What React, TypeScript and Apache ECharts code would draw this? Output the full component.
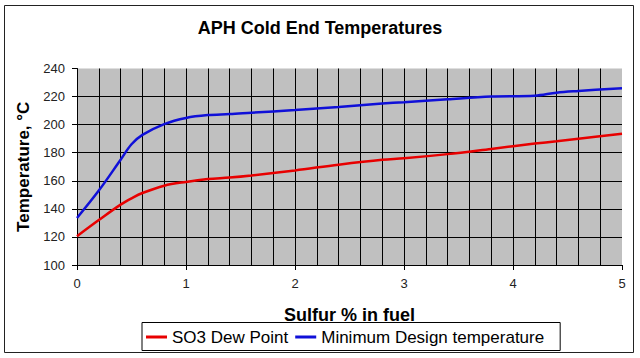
import React, { useEffect, useRef } from "react";
import * as echarts from "echarts";

const titleText = "APH Cold End Temperatures";
const xName = "Sulfur % in fuel";
const yName = "Temperature, °C";
const seriesNames = ["SO3 Dew Point", "Minimum Design temperature"];

const sulfur = [0, 0.2, 0.4, 0.5, 0.6, 0.8, 1.0, 1.2, 1.4, 1.6, 2.0, 2.4, 2.8, 3.0, 3.4, 3.8, 4.2, 4.4, 4.6, 5.0];
const so3DewPoint = [120.5, 132, 143, 147.5, 151.3, 156.5, 159.2, 161.2, 162.3, 163.8, 167.4, 171.5, 175, 176, 179, 182.7, 186.5, 188.2, 190, 193.5];
const minDesign = [133.5, 153, 175, 186, 192.7, 200.4, 204.8, 206.8, 207.5, 208.5, 210.4, 212.6, 215, 216, 218.1, 220, 220.6, 222.8, 224, 226];

const FONT = "Arial, 'Liberation Sans', sans-serif";

export default function App() {
  const ref = useRef<HTMLDivElement>(null);
  useEffect(() => {
    if (!ref.current) return;
    const chart = echarts.init(ref.current, undefined, { renderer: "svg" });
    const pairs = (ys: number[]) => sulfur.map((x, i) => [x, ys[i]]);
    chart.setOption({
      animation: false,
      backgroundColor: "#ffffff",
      textStyle: { fontFamily: FONT },
      title: {
        text: titleText,
        left: "center",
        top: 14,
        textStyle: { fontSize: 18, fontWeight: "bold", color: "#000", fontFamily: FONT },
      },
      graphic: [
        {
          type: "rect",
          shape: { x: 4.5, y: 5.5, width: 629, height: 347 },
          style: { fill: "none", stroke: "#222", lineWidth: 1 },
          silent: true,
        },
      ],
      legend: {
        top: 322.5,
        left: 142,
        borderColor: "#000",
        borderWidth: 1,
        padding: [6, 16, 5, 4],
        itemGap: 7,
        itemWidth: 21,
        itemHeight: 3,
        icon: "rect",
        textStyle: { fontSize: 17, color: "#000", fontFamily: FONT },
        data: seriesNames,
      },
      grid: {
        left: 77,
        right: 18,
        top: 68.5,
        bottom: 93,
        show: true,
        backgroundColor: "#c0c0c0",
        borderWidth: 0,
      },
      xAxis: {
        type: "value",
        min: 0,
        max: 5,
        interval: 1,
        name: xName,
        nameLocation: "middle",
        nameGap: 41,
        nameTextStyle: { fontSize: 18, fontWeight: "bold", color: "#000", fontFamily: FONT },
        axisLine: { show: true, lineStyle: { color: "#000", width: 1 } },
        axisTick: { show: true, length: 5, lineStyle: { color: "#000" } },
        axisLabel: { fontSize: 13, color: "#222", margin: 12, fontFamily: FONT },
        splitLine: { show: true, showMinLine: false, showMaxLine: false, lineStyle: { color: "#000", width: 1 } },
        minorTick: { show: false, splitNumber: 5 },
        minorSplitLine: { show: true, lineStyle: { color: "#000", width: 1 } },
      },
      yAxis: {
        type: "value",
        min: 100,
        max: 240,
        interval: 20,
        name: yName,
        nameLocation: "middle",
        nameGap: 36,
        nameTextStyle: { fontSize: 17, fontWeight: "bold", color: "#000", fontFamily: FONT },
        axisLine: { show: true, lineStyle: { color: "#000", width: 1 } },
        axisTick: { show: true, length: 5, lineStyle: { color: "#000" } },
        axisLabel: { fontSize: 13, color: "#222", margin: 12, fontFamily: FONT },
        splitLine: { show: true, showMinLine: false, showMaxLine: false, lineStyle: { color: "#000", width: 1 } },
      },
      series: [
        {
          name: seriesNames[0],
          type: "line",
          data: pairs(so3DewPoint),
          smooth: 0.35,
          symbol: "none",
          lineStyle: { color: "#e80000", width: 2.5 },
          itemStyle: { color: "#e80000" },
        },
        {
          name: seriesNames[1],
          type: "line",
          data: pairs(minDesign),
          smooth: 0.35,
          symbol: "none",
          lineStyle: { color: "#1010d8", width: 2.5 },
          itemStyle: { color: "#1010d8" },
        },
      ],
    });
    return () => chart.dispose();
  }, []);
  return (
    <div
      ref={ref}
      style={{ position: "fixed", left: 0, top: 0, width: 640, height: 358 }}
    />
  );
}
